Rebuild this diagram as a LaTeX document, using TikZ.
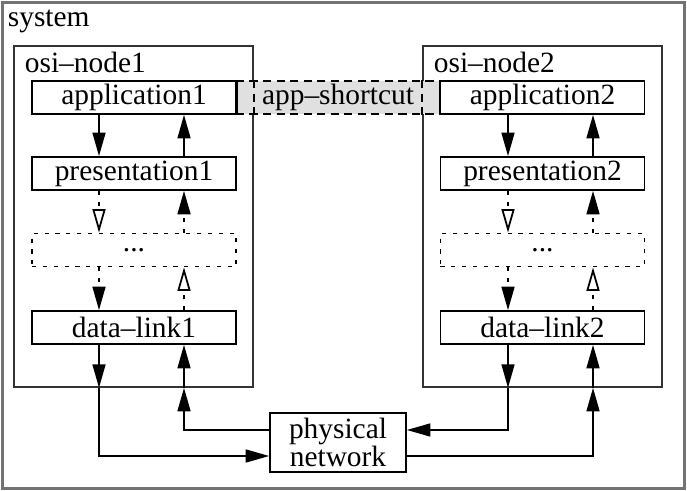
\documentclass[tikz,border=0pt]{standalone}
\usepackage{fontspec}
\setmainfont{Liberation Serif}
\usetikzlibrary{arrows.meta}
\tikzset{
    arr/.style={-{Triangle[length=8pt,width=4.4pt]}},
    openarr/.style={-{Triangle[open,length=8pt,width=4.4pt,fill=white]}},
    layer/.style={draw, line width=0.6pt, minimum width=69.4pt, minimum height=11.2pt, inner sep=0pt},
    dotlayer/.style={layer, dash pattern=on 1.4pt off 2.3pt},
    frame/.style={draw=black!80, line width=0.6pt, minimum width=81.3pt, minimum height=115.9pt, inner sep=0pt},
    dotline/.style={dash pattern=on 1.4pt off 2.3pt},
}
\begin{document}
\begin{tikzpicture}[x=0.34pt, y=-0.34pt, line width=0.6pt, font=\fontsize{10}{12}\selectfont]
    \useasboundingbox (0,0) rectangle (687,491);
    %draw system frame
    \node[draw=black!55, line width=1pt, minimum width=231.9pt, minimum height=165.1pt, inner sep=0pt] (sys) at (343.5,245.75) {};
    \node[anchor=base west, inner sep=0pt] (syslabel) at (7,27) {system};
    %draw osi frames
    \node[frame] (node1) at (133.5,216.5) {};
    \node[frame] (node2) at (542.5,216.5) {};
    \node[anchor=base west, inner sep=0pt] (label1) at (24,73) {osi--node1};
    \node[anchor=base west, inner sep=0pt] (label2) at (433,73) {osi--node2};
    %draw layers of node1
    \node[layer] (app1) at (134,97.5) {application1};
    \node[layer] (pres1) at (134,173.5) {presentation1};
    \node[dotlayer] (dots1) at (134,250) {...};
    \node[layer] (dl1) at (134,327.5) {data--link1};
    %draw layers of node2
    \node[layer] (app2) at (542.5,97.5) {application2};
    \node[layer] (pres2) at (542.5,173.5) {presentation2};
    \node[dotlayer] (dots2) at (542.5,250) {...};
    \node[layer] (dl2) at (542.5,327.5) {data--link2};
    %draw shortcut
    \node[draw, fill=black!12, dash pattern=on 2.8pt off 1.8pt, minimum width=69.4pt, minimum height=11.2pt, inner sep=0pt] (short) at (338,97.5) {app--shortcut};
    \draw[dash pattern=on 2.8pt off 1.8pt] (node1.east |- short.north) -- (node1.east |- short.south);
    \draw[dash pattern=on 2.8pt off 1.8pt] (node2.west |- short.north) -- (node2.west |- short.south);
    \draw (app1.north east) -- (app1.south east);
    \draw (app2.north west) -- (app2.south west);
    %draw physical network
    \node[draw, line width=0.6pt, minimum width=46.2pt, minimum height=20.1pt, inner sep=0pt, align=center] (phys) at (338,442.5) {physical\\[-2.5pt]network};
    %columns of the arrows
    \coordinate (dn1) at (99,0);
    \coordinate (up1) at (184,0);
    \coordinate (dn2) at (508,0);
    \coordinate (up2) at (593,0);
    \coordinate (phyA) at (0,430);
    \coordinate (phyB) at (0,456);
    %arrows inside node1
    \draw[arr] (app1.south -| dn1) -- (pres1.north -| dn1);
    \draw[arr] (pres1.north -| up1) -- (app1.south -| up1);
    \draw[openarr, dotline] (pres1.south -| dn1) -- (dots1.north -| dn1);
    \draw[arr, dotline] (dots1.north -| up1) -- (pres1.south -| up1);
    \draw[arr, dotline] (dots1.south -| dn1) -- (dl1.north -| dn1);
    \draw[openarr, dotline] (dl1.north -| up1) -- (dots1.south -| up1);
    %arrows inside node2
    \draw[arr] (app2.south -| dn2) -- (pres2.north -| dn2);
    \draw[arr] (pres2.north -| up2) -- (app2.south -| up2);
    \draw[openarr, dotline] (pres2.south -| dn2) -- (dots2.north -| dn2);
    \draw[arr, dotline] (dots2.north -| up2) -- (pres2.south -| up2);
    \draw[arr, dotline] (dots2.south -| dn2) -- (dl2.north -| dn2);
    \draw[openarr, dotline] (dl2.north -| up2) -- (dots2.south -| up2);
    %arrows to the physical network
    \draw[arr] (dl1.south -| dn1) -- (node1.south -| dn1);
    \draw[arr] (node1.south -| dn1) |- (phys.west |- phyB);
    \draw[arr] (phys.west |- phyA) -| (node1.south -| up1);
    \draw[arr] (node1.south -| up1) -- (dl1.south -| up1);
    \draw[arr] (dl2.south -| dn2) -- (node2.south -| dn2);
    \draw[arr] (node2.south -| dn2) |- (phys.east |- phyA);
    \draw[arr] (phys.east |- phyB) -| (node2.south -| up2);
    \draw[arr] (node2.south -| up2) -- (dl2.south -| up2);
\end{tikzpicture}
\end{document}
